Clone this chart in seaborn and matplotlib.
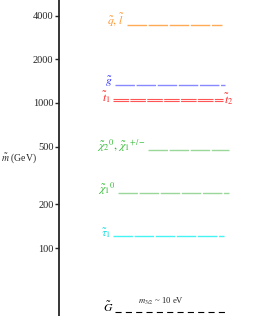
import matplotlib
matplotlib.use("Agg")
import matplotlib.pyplot as plt
import pandas as pd
import seaborn as sns

# ── data: sparticle masses (GeV) ────────────────────────────────────────────
names = ["sq", "gl", "t1", "t2", "chi2", "chi1", "tau1", "grav"]
masses = [3450, 1330, 1025, 1070, 474, 238, 121, 36]   # gravitino drawn at the bottom (schematic)
labels = [r"$\tilde{q},\,\tilde{l}$", r"$\tilde{g}$", r"$\tilde{t}_1$", r"$\tilde{t}_2$",
          r"$\tilde{\chi}_2{}^0,\,\tilde{\chi}_1{}^{+/-}$", r"$\tilde{\chi}_1{}^0$",
          r"$\tilde{\tau}_1$", r"$\tilde{G}$"]
yticks = [100, 200, 500, 1000, 2000, 4000]

# ── layout / style (pixels from the axis line) ──────────────────────────────
x_start = [68, 56, 54, 54, 89, 59, 54, 56]
x_end = [163, 166, 164, 164, 170, 170, 165, 166]
label_side = ["left", "left", "left", "right", "left", "left", "left", "left"]
line_colors = ["#ffaa55", "#8888ff", "#ff5555", "#ff5555", "#99d899", "#99d899", "#44f4f4", "black"]
text_colors = ["#ff9933", "#3333ff", "#ff2222", "#ff2222", "#33bb33", "#33bb33", "#11dddd", "black"]
widths = [1.0, 1.0, 0.8, 0.8, 1.0, 1.0, 1.0, 0.8]

sns.set_style("ticks")
plt.rcParams["font.family"] = ["Liberation Serif", "DejaVu Serif"]
plt.rcParams["mathtext.fontset"] = "stix"

fig = plt.figure(figsize=(2.69, 3.16), dpi=100)
ax = fig.add_axes([59 / 269, 0, 210 / 269, 1])

rows = []
for n, m, xs, xe in zip(names, masses, x_start, x_end):
    rows.append({"name": n, "x": xs, "mass": m})
    rows.append({"name": n, "x": xe, "mass": m})
df = pd.DataFrame(rows)

dashes = {n: (14, 1.2) for n in names}
dashes["grav"] = (5.5, 3.8)
sns.lineplot(data=df, x="x", y="mass", hue="name", style="name",
             palette=dict(zip(names, line_colors)), dashes=dashes,
             legend=False, estimator=None, linewidth=1.0, ax=ax)
for line, w in zip(ax.lines, widths):
    line.set_linewidth(w)

ax.set_yscale("log")
ax.set_ylim(34, 5130)
ax.set_xlim(0, 210)

for lab, m, xs, xe, side, c in zip(labels, masses, x_start, x_end, label_side, text_colors):
    if side == "left":
        ax.text(xs - 2, m, lab, color=c, fontsize=8.5, ha="right", va="baseline")
    else:
        ax.text(xe + 1, m, lab, color=c, fontsize=8.5, ha="left", va="center")

ax.text(79, 41, r"$m_{3/2}$ ~ 10 eV", fontsize=6.2, ha="left", va="baseline")

ax.set_yticks(yticks)
ax.set_yticklabels([str(t) for t in yticks], fontsize=7.5)
ax.minorticks_off()
ax.tick_params(axis="y", which="major", length=3, width=1, pad=1, direction="out")
ax.set_xticks([])
ax.set_xlabel("")
ax.set_ylabel("")
for s in ["top", "right", "bottom"]:
    ax.spines[s].set_visible(False)
ax.spines["left"].set_linewidth(1.3)

fig.text(1 / 269, 1 - 158 / 316, r"$\tilde{m}$ (GeV)", fontsize=7, ha="left", va="center")

fig.savefig("out.png", dpi=100)
